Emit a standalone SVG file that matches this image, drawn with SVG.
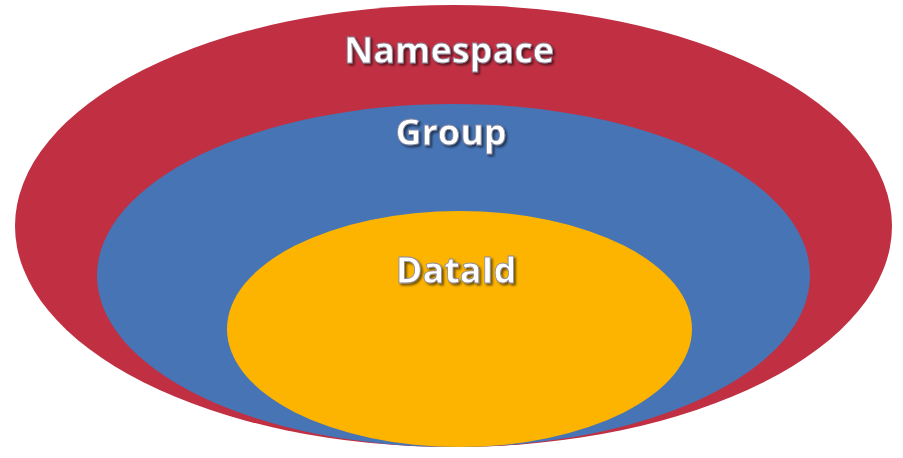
<svg xmlns="http://www.w3.org/2000/svg" width="903" height="458" viewBox="0 0 903 458">
<defs>
<filter id="sh" x="-20%" y="-40%" width="140%" height="180%">
<feGaussianBlur in="SourceAlpha" stdDeviation="1.2" result="b"/>
<feOffset in="b" dx="1.5" dy="2" result="o"/>
<feFlood flood-color="#000" flood-opacity="0.55"/>
<feComposite in2="o" operator="in" result="s"/>
<feMerge><feMergeNode in="s"/><feMergeNode in="SourceGraphic"/></feMerge>
</filter>
</defs>
<style>
.lbl{font-family:"Open Sans","Noto Sans","Liberation Sans",sans-serif;font-weight:bold;font-size:36px;fill:#fff;stroke:#8a8aa0;stroke-width:0.8;text-anchor:middle;filter:url(#sh)}
</style>
<rect width="903" height="458" fill="#fff"/>
<g id="namespace">
<ellipse cx="453.5" cy="226" rx="438.5" ry="221" fill="#c03042"/>
<text class="lbl" x="449" y="63">Namespace</text>
</g>
<g id="group">
<ellipse cx="453.5" cy="275.5" rx="356.5" ry="171.5" fill="#4674b5"/>
<text class="lbl" x="451" y="145">Group</text>
</g>
<g id="dataid">
<ellipse cx="459.5" cy="329" rx="232.5" ry="118" fill="#fdb400"/>
<text class="lbl" x="456" y="283">DataId</text>
</g>
<g id="connectors"/>
</svg>
